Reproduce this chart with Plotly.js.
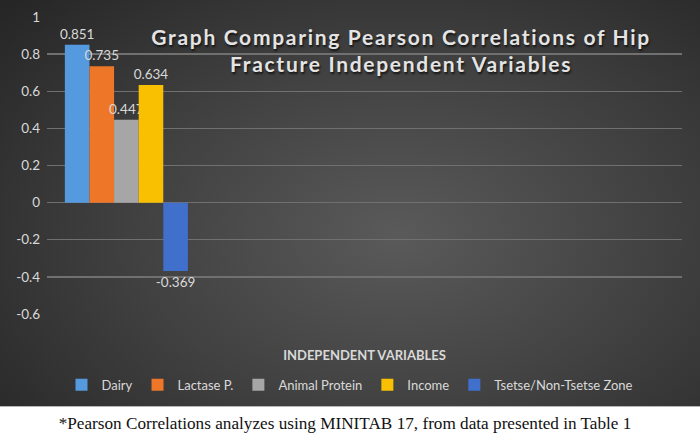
<!DOCTYPE html>
<html>
<head>
<meta charset="utf-8">
<script src="https://cdn.plot.ly/plotly-3.0.1.min.js"></script>
<style>
  body { margin: 0; background: #fff; width: 700px; height: 441px; overflow: hidden; }
  #chart {
    width: 700px; height: 406px;
    background: radial-gradient(ellipse 75% 85% at 57% 58%, #5a5a5a 0%, #414141 50%, #262626 100%);
    border-bottom: 1px solid #b5b5b5;
  }
  #chart .gtitle { letter-spacing: 1.7px; }
  #caption {
    font-family: "Liberation Serif", "Times New Roman", serif;
    font-size: 17.2px; color: #111; text-align: center;
    margin-top: 7px; padding-right: 10px;
  }
</style>
</head>
<body>
<div id="chart"></div>
<div id="caption">*Pearson Correlations analyzes using MINITAB 17, from data presented in Table 1</div>
<script>
  var categories = ['Correlation'];
  var seriesNames = ['Dairy', 'Lactase P.', 'Animal Protein', 'Income', 'Tsetse/Non-Tsetse Zone'];
  var seriesValues = [0.851, 0.735, 0.447, 0.634, -0.369];
  var seriesColors = ['#559ade', '#ee7628', '#a6a6a6', '#f8c000', '#4070cc'];
  var yTicks = [1, 0.8, 0.6, 0.4, 0.2, 0, -0.2, -0.4, -0.6];
  var yTickText = ['1', '0.8', '0.6', '0.4', '0.2', '0', '-0.2', '-0.4', '-0.6'];

  var labelColor = '#d9d9d9';
  var font = 'Lato, "Open Sans", sans-serif';

  var data = seriesNames.map(function (name, i) {
    return {
      type: 'bar',
      name: name,
      x: categories,
      y: [seriesValues[i]],
      text: [String(seriesValues[i])],
      textposition: 'outside',
      constraintext: 'none',
      cliponaxis: false,
      textfont: { color: labelColor, size: 13.5, family: font },
      marker: { color: seriesColors[i], line: { width: 0 } },
      hoverinfo: 'name+y'
    };
  });

  var layout = {
    width: 700,
    height: 406,
    paper_bgcolor: 'rgba(0,0,0,0)',
    plot_bgcolor: 'rgba(0,0,0,0)',
    margin: { l: 47, r: 18, t: 17, b: 92 },
    font: { family: font, color: labelColor, size: 12.5 },
    barmode: 'group',
    bargap: 0.225,
    bargroupgap: 0,
    title: {
      text: 'Graph Comparing Pearson Correlations of Hip<br>Fracture Independent Variables',
      font: { family: font, size: 21, color: '#e4e4e4', weight: 'bold', shadow: '1px 2px 2px #151515' },
      x: 0.573, xanchor: 'center', xref: 'container',
      y: 0.89, yanchor: 'middle', yref: 'container'
    },
    xaxis: {
      type: 'category',
      range: [-0.5, 3.5],
      automargin: false,
      showticklabels: false,
      showgrid: false,
      zeroline: false,
      ticks: '',
      title: {
        text: 'INDEPENDENT VARIABLES',
        font: { family: font, size: 13, color: labelColor, weight: 'bold' },
        standoff: 36
      }
    },
    yaxis: {
      range: [-0.6, 1],
      automargin: false,
      tickvals: yTicks,
      ticktext: yTickText,
      showgrid: true,
      gridcolor: '#707070',
      gridwidth: 1.3,
      zeroline: false,
      ticks: '',
      ticklabelstandoff: 6,
      tickfont: { size: 13.5, color: labelColor, family: font }
    },
    showlegend: true,
    legend: {
      orientation: 'h',
      x: 0.5, xanchor: 'center', xref: 'container',
      y: 0.052, yanchor: 'middle', yref: 'container',
      font: { size: 13, color: labelColor, family: font },
      bgcolor: 'rgba(0,0,0,0)',
      itemwidth: 30,
      traceorder: 'normal'
    }
  };

  Plotly.newPlot('chart', data, layout, { displayModeBar: false, staticPlot: true });
</script>
</body>
</html>
